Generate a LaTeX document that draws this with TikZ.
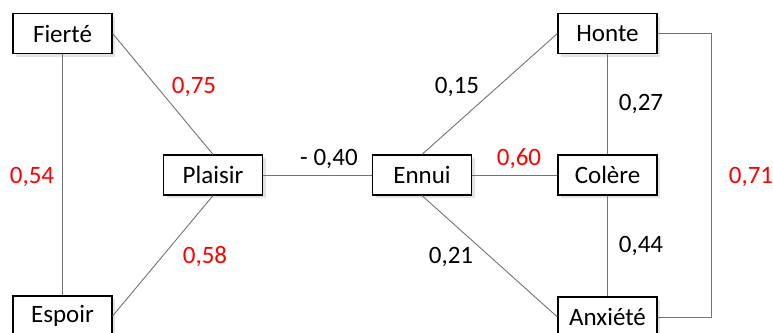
\documentclass[tikz,border=0pt]{standalone}
\usepackage{fontspec}
\setmainfont{Carlito}
\usetikzlibrary{shadows}
\begin{document}
\begin{tikzpicture}[x=1pt,y=-1pt,
  box/.style={draw=black,line width=1.2pt,fill=white,minimum width=99pt,minimum height=40pt,inner sep=0pt,
    font=\fontsize{25}{29}\selectfont,
    drop shadow={opacity=0.22,shadow xshift=3pt,shadow yshift=-3pt}},
  link/.style={draw=black!55,line width=0.9pt},
  lab/.style={font=\fontsize{25}{29}\selectfont,text=black},
  rlab/.style={lab,text=red}]
\useasboundingbox (0,0) rectangle (773,332);
\node[box] (fi) at (62.5,33.5) {Fierté};
\node[box] (es) at (62.5,316) {Espoir};
\node[box] (pl) at (213,175) {Plaisir};
\node[box] (en) at (422,175) {Ennui};
\node[box] (ho) at (607.5,33.5) {Honte};
\node[box] (co) at (607.5,175) {Colère};
\node[box] (an) at (607.5,317) {Anxiété};
\coordinate (rt) at (711,33.5);
\coordinate (rb) at (711,317);
\draw[link] (fi.south) -- (es.north);
\draw[link] (fi.east) -- (pl.north);
\draw[link] (pl.south) -- (es.east);
\draw[link] (pl.east) -- (en.west);
\draw[link] (en.north) -- (ho.west);
\draw[link] (en.east) -- (co.west);
\draw[link] (en.south) -- (an.west);
\draw[link] (ho.south) -- (co.north);
\draw[link] (co.south) -- (an.north);
\draw[link] (ho.east) -- (rt) -- (rb) -- (an.east);
\node[rlab] (l75) at (194,87) {0,75};
\node[rlab] (l54) at (32,177) {0,54};
\node[rlab] (l58) at (205,257) {0,58};
\node[lab] (l40) at (329,159) {- 0,40};
\node[lab] (l15) at (457,87) {0,15};
\node[rlab] (l60) at (519,159) {0,60};
\node[lab] (l21) at (451,257) {0,21};
\node[lab] (l27) at (641,104) {0,27};
\node[lab] (l44) at (641,246) {0,44};
\node[rlab] (l71) at (751,177) {0,71};
\end{tikzpicture}
\end{document}
